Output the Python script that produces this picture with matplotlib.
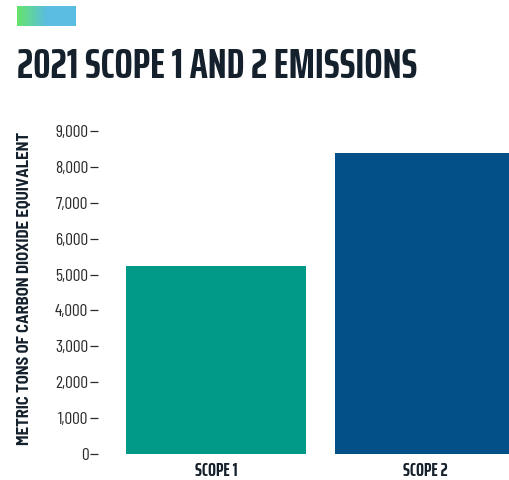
import numpy as np
import matplotlib.pyplot as plt
from matplotlib.colors import LinearSegmentedColormap

# data
categories = ['SCOPE 1', 'SCOPE 2']
emissions = [5240, 8390]
bar_colors = ['#009987', '#034f88']
yticks = [0, 1000, 2000, 3000, 4000, 5000, 6000, 7000, 8000, 9000]

plt.rcParams['font.family'] = ['Barlow Condensed', 'DejaVu Sans']
narrow = ['Saira ExtraCondensed', 'DejaVu Sans']

W, H = 510, 480
fig = plt.figure(figsize=(W / 100, H / 100), dpi=100)

# gradient badge at the top
grad_ax = fig.add_axes([17 / W, 1 - 26 / H, 59 / W, 20 / H])
cmap = LinearSegmentedColormap.from_list('badge', ['#66e46a', '#5bbde2', '#5bbde2'])
grad_ax.imshow(np.linspace(0, 1, 200)[None, :], aspect='auto', cmap=cmap)
grad_ax.axis('off')

fig.text(17 / W, 1 - 78 / H, '2021 SCOPE 1 AND 2 EMISSIONS', fontsize=31, family=narrow,
         fontweight='bold', color='#14202b', ha='left', va='baseline')

ax = fig.add_axes([98 / W, 26 / H, (W - 98) / W, 323 / H])
x = np.arange(len(categories))
ax.bar(x, emissions, width=0.86, color=bar_colors)
ax.set_xlim(-0.565, 1.406)
ax.set_ylim(0, 9000)
ax.set_yticks(yticks)
ax.set_yticklabels([f'{v:,}' for v in yticks], fontsize=12.5, color='#2a2a2a')
ax.set_xticks(x)
ax.set_xticklabels(categories, fontsize=13.5, family=narrow, fontweight='bold', color='#14202b')
ax.tick_params(axis='y', direction='out', length=5.5, width=0.9, color='#2a2a2a', pad=1.5)
ax.tick_params(axis='x', length=0, pad=6)
for s in ax.spines.values():
    s.set_visible(False)

fig.text(25 / W, 1 - 288 / H, 'METRIC TONS OF CARBON DIOXIDE EQUIVALENT', rotation=90,
         fontsize=12, family=['Barlow Semi Condensed', 'DejaVu Sans'], fontweight='bold',
         color='#14202b', ha='center', va='center')

fig.savefig('out.png', dpi=100)
